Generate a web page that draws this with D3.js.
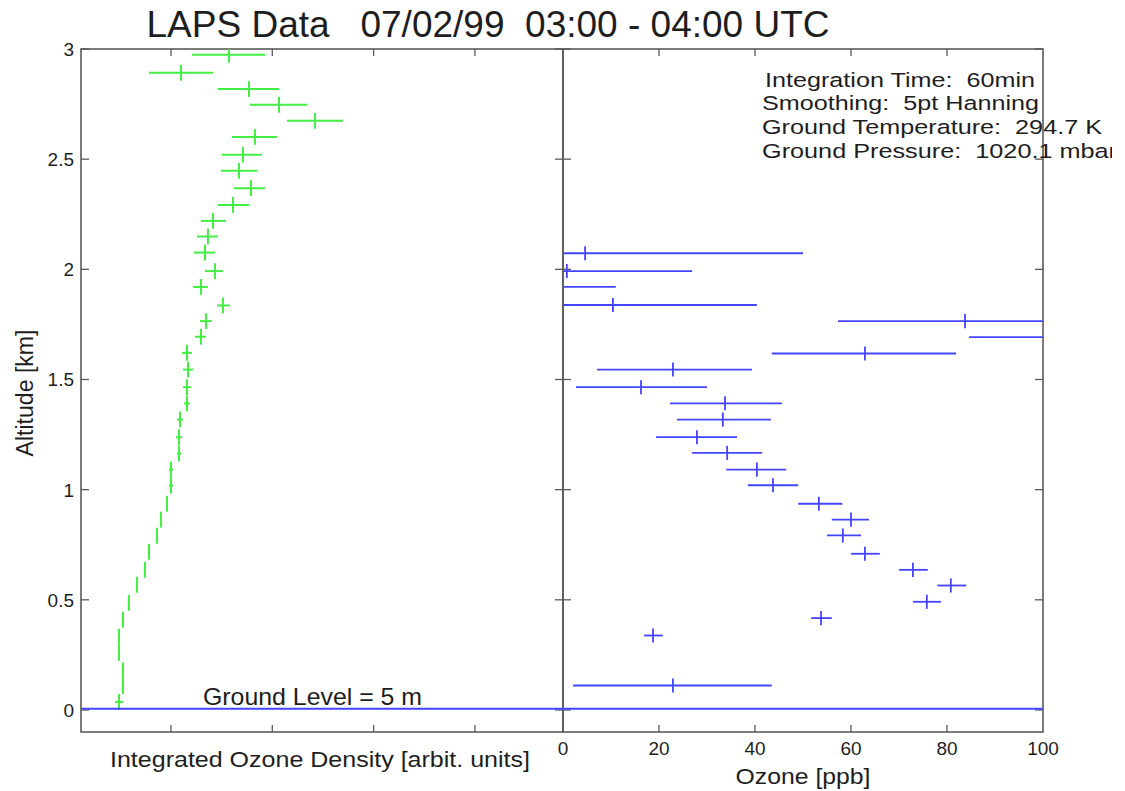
<!DOCTYPE html>
<html><head><meta charset="utf-8">
<script src="https://cdn.jsdelivr.net/npm/d3@7"></script>
<style>body{margin:0;background:#fff}svg{display:block;font-family:"Liberation Sans",Arial,sans-serif}text{white-space:pre}</style>
</head><body><svg id="c" width="1125" height="791"></svg>
<script>
// Left panel: integrated ozone density (arbitrary units)
const densAlt = [2.974,2.892,2.818,2.747,2.674,2.601,2.520,2.447,2.368,2.292,2.220,2.149,2.076,1.992,1.920,1.836,1.765,1.694,1.621,1.545,1.465,1.391,1.318,1.238,1.164,1.091,1.018,0.936,0.864,0.791,0.718,0.636,0.568,0.486,0.410,0.332,0.259,0.180,0.109,0.036];
const densVal = [1.573,1.099,1.770,2.066,2.422,1.829,1.711,1.671,1.790,1.612,1.415,1.365,1.336,1.434,1.296,1.513,1.346,1.296,1.158,1.168,1.158,1.158,1.089,1.079,1.079,1.000,1.000,0.961,0.901,0.862,0.783,0.743,0.664,0.585,0.526,0.487,0.487,0.526,0.526,0.487];
const densLo  = [1.207,0.783,1.464,1.780,2.145,1.602,1.503,1.494,1.622,1.464,1.296,1.257,1.227,1.336,1.217,1.454,1.286,1.237,1.109,1.118,1.118,1.128,1.059,1.049,1.059,0.980,0.980,0.951,0.891,0.852,0.773,0.733,0.654,0.575,0.516,0.477,0.477,0.516,0.516,0.447];
const densHi  = [1.928,1.415,2.066,2.343,2.698,2.046,1.898,1.849,1.928,1.770,1.543,1.464,1.434,1.513,1.365,1.582,1.405,1.346,1.207,1.218,1.198,1.188,1.119,1.109,1.099,1.020,1.020,0.971,0.911,0.872,0.793,0.753,0.674,0.595,0.536,0.497,0.497,0.536,0.536,0.527];
const densTicks = [1,2,3,4];

// Right panel: ozone (ppb)
const o3Alt = [2.073,1.992,1.920,1.838,1.765,1.692,1.618,1.545,1.465,1.392,1.318,1.238,1.167,1.091,1.020,0.936,0.864,0.792,0.709,0.636,0.565,0.491,0.417,0.338,0.111];
const o3Val = [4.6,0.8,-4,10.4,83.75,115,62.9,22.9,16.25,33.75,33.3,27.9,34.2,40.4,43.75,53.3,60,58.3,62.9,72.9,80.8,75.8,53.75,18.75,22.9];
const o3Lo  = [-40,-25,-20,-20,57.3,84.6,43.5,7.1,2.7,22.3,23.75,19.4,26.9,34,38.5,49,56,55,60,70,78,72.9,51.7,16.9,2.1];
const o3Hi  = [50,26.9,11,40.4,110,145,81.9,39.4,30,45.6,43.3,36.25,41.5,46.5,49,58.2,63.75,62.1,66,76,84,78.75,56,20.8,43.5];
const o3Ticks = [0,20,40,60,80,100];

const altTicks = [0,0.5,1,1.5,2,2.5,3];
const altTickLabels = ["0","0.5","1","1.5","2","2.5","3"];
const notes = ["Integration Time:  60min","Smoothing:  5pt Hanning","Ground Temperature:  294.7 K","Ground Pressure:  1020.1 mbar"];
const groundAlt = 0.005;

const svg = d3.select("#c");
const L = {x0:81, x1:563}, R = {x0:563, x1:1043};
const yTop = 49, yBot = 732;
const y = d3.scaleLinear().domain([-0.1,3]).range([yBot,yTop]);
const xL = d3.scaleLinear().domain([0.112,4.869]).range([L.x0,L.x1]);
const xR = d3.scaleLinear().domain([0,100]).range([R.x0,R.x1]);
const axisCol = "#5a5a5a", txt = "#1e1e1e";

svg.append("defs").html(`<clipPath id="cl"><rect x="${L.x0}" y="${yTop}" width="${L.x1-L.x0}" height="${yBot-yTop}"/></clipPath>
<clipPath id="cr"><rect x="${R.x0}" y="${yTop}" width="${R.x1-R.x0}" height="${yBot-yTop}"/></clipPath>
<clipPath id="ct"><rect x="0" y="0" width="1112" height="791"/></clipPath>`);

// Title
svg.append("text").attr("x",488).attr("y",37).attr("text-anchor","middle")
  .attr("font-size",36).attr("textLength",683).attr("lengthAdjust","spacingAndGlyphs")
  .attr("fill",txt).text("LAPS Data   07/02/99  03:00 - 04:00 UTC");

// Frames & ticks
function frame(x0,x1,xs,ticks){
  const g = svg.append("g");
  g.append("rect").attr("x",x0).attr("y",yTop).attr("width",x1-x0).attr("height",yBot-yTop)
    .attr("fill","none").attr("stroke",axisCol).attr("stroke-width",1.6);
  ticks.forEach(t=>{
    const X = xs(t);
    g.append("line").attr("x1",X).attr("x2",X).attr("y1",yBot).attr("y2",yBot-7).attr("stroke",axisCol).attr("stroke-width",1.3);
    g.append("line").attr("x1",X).attr("x2",X).attr("y1",yTop).attr("y2",yTop+7).attr("stroke",axisCol).attr("stroke-width",1.3);
  });
  altTicks.forEach(t=>{
    const Y = y(t);
    g.append("line").attr("x1",x0).attr("x2",x0+8).attr("y1",Y).attr("y2",Y).attr("stroke",axisCol).attr("stroke-width",1.3);
    g.append("line").attr("x1",x1).attr("x2",x1-8).attr("y1",Y).attr("y2",Y).attr("stroke",axisCol).attr("stroke-width",1.3);
  });
}
frame(L.x0,L.x1,xL,densTicks);
frame(R.x0,R.x1,xR,o3Ticks.filter(t=>t>0&&t<100));

// Y tick labels
svg.append("g").selectAll("text").data(altTicks).join("text")
  .attr("x",74).attr("y",d=>y(d)+7).attr("text-anchor","end").attr("font-size",19).attr("fill",txt)
  .text((d,i)=>altTickLabels[i]);
svg.append("text").attr("transform","translate(33,393) rotate(-90)").attr("text-anchor","middle")
  .attr("font-size",23).attr("textLength",127).attr("lengthAdjust","spacingAndGlyphs").attr("fill",txt).text("Altitude [km]");

// X tick labels (right)
svg.append("g").selectAll("text").data(o3Ticks).join("text")
  .attr("x",d=>xR(d)).attr("y",755).attr("text-anchor","middle").attr("font-size",19).attr("fill",txt).text(d=>d);
svg.append("text").attr("x",320).attr("y",767).attr("text-anchor","middle").attr("font-size",22)
  .attr("textLength",420).attr("lengthAdjust","spacingAndGlyphs").attr("fill",txt)
  .text("Integrated Ozone Density [arbit. units]");
svg.append("text").attr("x",803).attr("y",784).attr("text-anchor","middle").attr("font-size",22)
  .attr("textLength",135).attr("lengthAdjust","spacingAndGlyphs").attr("fill",txt).text("Ozone [ppb]");

// Green error crosses
const green = "#44ee44", blue = "#4444ff";
const gL = svg.append("g").attr("clip-path","url(#cl)");
densAlt.forEach((a,i)=>{
  gL.append("line").attr("x1",xL(densLo[i])).attr("x2",xL(densHi[i])).attr("y1",y(a)).attr("y2",y(a))
    .attr("stroke",green).attr("stroke-width",2);
  gL.append("line").attr("x1",xL(densVal[i])).attr("x2",xL(densVal[i])).attr("y1",y(a+0.036)).attr("y2",y(a-0.036))
    .attr("stroke",green).attr("stroke-width",2);
});

// Blue error crosses
const gR = svg.append("g").attr("clip-path","url(#cr)");
o3Alt.forEach((a,i)=>{
  gR.append("line").attr("x1",xR(o3Lo[i])).attr("x2",xR(o3Hi[i])).attr("y1",y(a)).attr("y2",y(a))
    .attr("stroke",blue).attr("stroke-width",1.8);
  gR.append("line").attr("x1",xR(o3Val[i])).attr("x2",xR(o3Val[i])).attr("y1",y(a+0.032)).attr("y2",y(a-0.032))
    .attr("stroke",blue).attr("stroke-width",1.8);
});

// Ground line
svg.append("line").attr("x1",L.x0).attr("x2",R.x1).attr("y1",y(groundAlt)).attr("y2",y(groundAlt))
  .attr("stroke",blue).attr("stroke-width",2);
svg.append("text").attr("x",203).attr("y",705).attr("font-size",24).attr("textLength",219)
  .attr("lengthAdjust","spacingAndGlyphs").attr("fill",txt).text("Ground Level = 5 m");

// Notes
const nx = [765,762,762,762], ny = [87,110,134,158], nw = [270,277,340,355];
const gn = svg.append("g").attr("clip-path","url(#ct)");
notes.forEach((t,i)=>gn.append("text").attr("x",nx[i]).attr("y",ny[i]).attr("font-size",20.5)
  .attr("textLength",nw[i]).attr("lengthAdjust","spacingAndGlyphs").attr("fill",txt).text(t));
</script></body></html>
